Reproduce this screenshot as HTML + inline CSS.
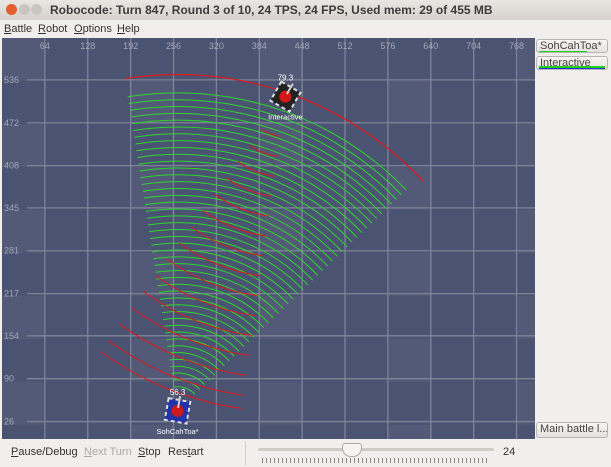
<!DOCTYPE html>
<html><head><meta charset="utf-8"><style>
body{margin:0;width:611px;height:467px;overflow:hidden;background:#f0efed;font-family:"Liberation Sans",sans-serif;position:relative}
.title{position:absolute;left:0;top:0;width:611px;height:20px;background:linear-gradient(#e9e7e3,#d6d3ce);font-size:12px;font-weight:bold;color:#3c3c3c}
.menu{position:absolute;left:0;top:20px;width:611px;height:18px;font-size:11px;color:#333}
.menu span{position:absolute;top:3px}
.btn{position:absolute;left:536px;width:72px;height:14px;border:1px solid #b8b5b0;border-radius:3px;background:linear-gradient(#f8f7f6,#e3e1dd);font-size:11px;color:#444;padding-left:3px;box-sizing:border-box;line-height:12px;overflow:hidden;white-space:nowrap}
.bot span{position:absolute;top:446px;font-size:11px;color:#333}
</style></head><body>
<div class="title">
 <div style="position:absolute;left:6px;top:4px;width:11px;height:11px;border-radius:50%;background:#e3602e"></div>
 <div style="position:absolute;left:19px;top:4px;width:11px;height:11px;border-radius:50%;background:#c9c6c1"></div>
 <div style="position:absolute;left:31px;top:4px;width:11px;height:11px;border-radius:50%;background:#c9c6c1"></div>
 <span style="position:absolute;left:50px;top:3px">Robocode: Turn 847, Round 3 of 10, 24 TPS, 24 FPS, Used mem: 29 of 455 MB</span>
</div>
<div class="menu">
 <span style="left:4px"><u>B</u>attle</span>
 <span style="left:38px"><u>R</u>obot</span>
 <span style="left:74px"><u>O</u>ptions</span>
 <span style="left:117px"><u>H</u>elp</span>
</div>
<svg id="field" style="position:absolute;left:2px;top:38px" width="533" height="401"></svg>
<div class="btn" style="top:39px">SohCahToa*<div style="position:absolute;left:2px;top:11px;width:48px;height:2px;background:#1fd21f"></div></div>
<div class="btn" style="top:56px">Interactive<div style="position:absolute;left:2px;top:9px;width:66px;height:2px;background:#1fd21f"></div><div style="position:absolute;left:2px;top:11px;width:66px;height:2px;background:#2432d6"></div></div>
<div class="btn" style="top:422px;height:16px">Main battle l...</div>
<div class="bot">
 <span style="left:11px"><u>P</u>ause/Debug</span>
 <span style="left:84px;color:#aaa"><u>N</u>ext Turn</span>
 <span style="left:138px"><u>S</u>top</span>
 <span style="left:168px">Res<u>t</u>art</span>
 <span style="left:503px">24</span>
</div>
<div style="position:absolute;left:245px;top:441px;width:1px;height:24px;background:#d2d0cc"></div>
<div style="position:absolute;left:258px;top:448px;width:236px;height:3px;background:#cfccc7;border-radius:2px"></div>
<div style="position:absolute;left:342px;top:443px;width:18px;height:12px;background:#f5f4f2;border:1px solid #aaa;border-radius:3px 3px 9px 9px"></div>
<div style="position:absolute;left:262px;top:458px;width:228px;height:5px;background:repeating-linear-gradient(90deg,#888 0 1px,transparent 1px 4px)"></div>
<script>
const xTicks=[64,128,192,256,320,384,448,512,576,640,704,768];
const yTicks=[26,90,154,217,281,345,408,472,536];
const robotNames=["SohCahToa*","Interactive"];
const robotX=[262,423];
const robotY=[42,511];
const robotEnergy=["56.3","79.3"];
const greenRadii=[];for(let i=0;i<44;i++)greenRadii.push(36+i*10.2);
const greenSpan=[-9,46];
const redTopRadii=[502];
const redTopSpan=[-9,47];
const redRadii=[60,90,120,150,180,210,240,270,300,330,360,390,420,450,470];
const redSpan=[188,216];
const S=0.67,H=401;
const sx=v=>v*S, sy=v=>H-v*S;
const svg=document.getElementById('field');const NS="http://www.w3.org/2000/svg";
function mk(t,a,p){const e=document.createElementNS(NS,t);for(const k in a)e.setAttribute(k,a[k]);(p||svg).appendChild(e);return e;}
mk('rect',{x:0,y:0,width:533,height:401,fill:'#4b5373'});
for(let i=0;i<13;i++)for(let j=0;j<10;j++){if((i*7+j*3)%6==0){mk('rect',{x:i*43,y:j*43,width:43,height:43,fill:'#535a77'});}}
xTicks.forEach(t=>{const l=mk('line',{x1:sx(t),x2:sx(t),y1:0,y2:H,stroke:'#7f8396','stroke-width':1.3});
 const tx=mk('text',{x:sx(t),y:11,fill:'#a4a7b6','font-size':9,'text-anchor':'middle'});tx.textContent=t;});
yTicks.forEach(t=>{const l=mk('line',{x1:25,x2:533,y1:sy(t),y2:sy(t),stroke:'#7f8396','stroke-width':1.3});
 const tx=mk('text',{x:2,y:sy(t)+3,fill:'#a4a7b6','font-size':9});tx.textContent=t;});
function arc(cx,cy,r,a0,a1,col,name,w){const p=a=>[sx(cx)+r*S*Math.sin(a*Math.PI/180),sy(cy)-r*S*Math.cos(a*Math.PI/180)];
 const [x0,y0]=p(a0),[x1,y1]=p(a1);const e=mk('path',{d:`M${x0},${y0} A${r*S},${r*S} 0 0 1 ${x1},${y1}`,fill:'none',stroke:col,'stroke-width':w});
 }
greenRadii.forEach(r=>arc(robotX[0],robotY[0],r,greenSpan[0],greenSpan[1],'#2ed62e','green-wave',1));
redRadii.forEach(r=>arc(robotX[1],robotY[1],r,redSpan[0],redSpan[1],'#e01818','red-wave',1));
redTopRadii.forEach(r=>arc(robotX[0],robotY[0],r,redTopSpan[0],redTopSpan[1],'#e01818','red-bullet-wave',1.2));
robotNames.forEach((n,i)=>{const g=mk('g',{transform:`translate(${sx(robotX[i])},${sy(robotY[i])}) rotate(${i?30:10})`});
 
 mk('rect',{x:-11,y:-11,width:22,height:22,fill:i?'#222':'#2233aa',stroke:'#ddd','stroke-width':2,'stroke-dasharray':'4 3'},g);
 mk('circle',{r:6,fill:'#d01818'},g);mk('rect',{x:-1,y:-15,width:2,height:12,fill:'#ccc'},g);
 const e=mk('text',{x:sx(robotX[i]),y:sy(robotY[i])-16,fill:'#fff','font-size':8,'text-anchor':'middle'});e.textContent=robotEnergy[i];
 const t=mk('text',{x:sx(robotX[i]),y:sy(robotY[i])+23,fill:'#fff','font-size':7.5,'text-anchor':'middle'});t.textContent=n;});
</script>
</body></html>
